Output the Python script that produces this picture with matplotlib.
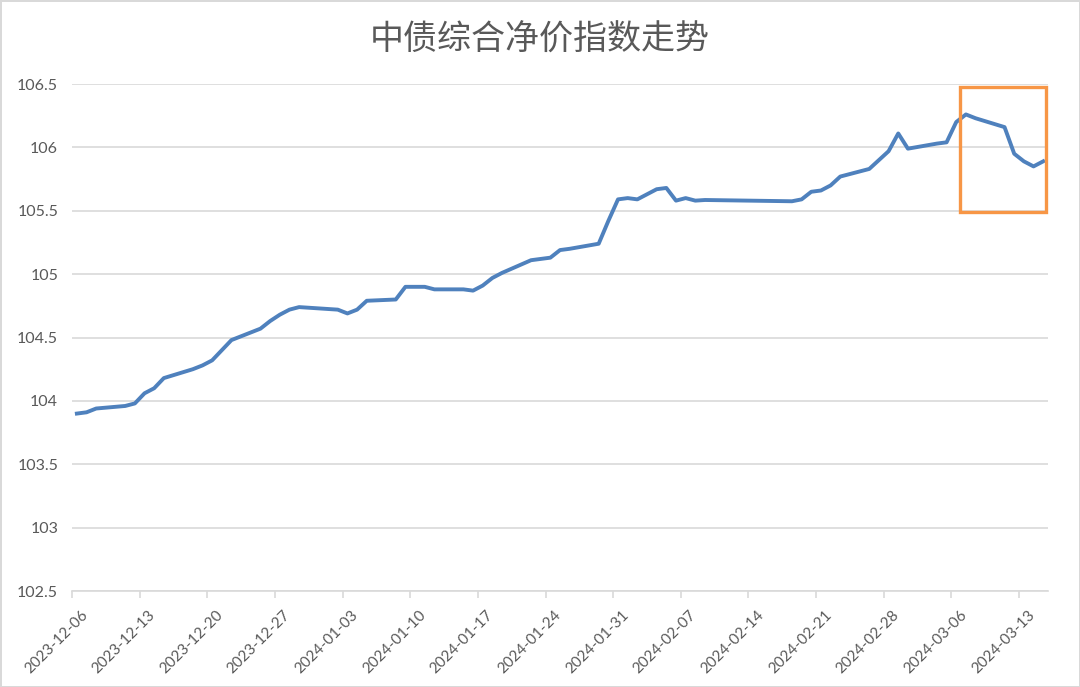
import matplotlib
matplotlib.use("Agg")
import matplotlib.pyplot as plt
import matplotlib.patches as mpatches
import matplotlib.transforms as mtransforms
import pandas as pd

# 中债综合净价指数 (daily closes)
dates = [
    "2023-12-06", "2023-12-07", "2023-12-08", "2023-12-11", "2023-12-12",
    "2023-12-13", "2023-12-14", "2023-12-15", "2023-12-18", "2023-12-19",
    "2023-12-20", "2023-12-21", "2023-12-22", "2023-12-25", "2023-12-26",
    "2023-12-27", "2023-12-28", "2023-12-29", "2024-01-02", "2024-01-03",
    "2024-01-04", "2024-01-05", "2024-01-08", "2024-01-09", "2024-01-10",
    "2024-01-11", "2024-01-12", "2024-01-15", "2024-01-16", "2024-01-17",
    "2024-01-18", "2024-01-19", "2024-01-22", "2024-01-23", "2024-01-24",
    "2024-01-25", "2024-01-26", "2024-01-29", "2024-01-30", "2024-01-31",
    "2024-02-01", "2024-02-02", "2024-02-04", "2024-02-05", "2024-02-06",
    "2024-02-07", "2024-02-08", "2024-02-09", "2024-02-18", "2024-02-19",
    "2024-02-20", "2024-02-21", "2024-02-22", "2024-02-23", "2024-02-26",
    "2024-02-27", "2024-02-28", "2024-02-29", "2024-03-01", "2024-03-04",
    "2024-03-05", "2024-03-06", "2024-03-07", "2024-03-08", "2024-03-11",
    "2024-03-12", "2024-03-13", "2024-03-14", "2024-03-15",
]
values = [
    103.90, 103.91, 103.94, 103.96, 103.98,
    104.06, 104.10, 104.18, 104.25, 104.28,
    104.32, 104.40, 104.48, 104.57, 104.63,
    104.68, 104.72, 104.74, 104.72, 104.69,
    104.72, 104.79, 104.80, 104.90, 104.90,
    104.90, 104.88, 104.88, 104.87, 104.91,
    104.97, 105.01, 105.11, 105.12, 105.13,
    105.19, 105.20, 105.24, 105.42, 105.59,
    105.60, 105.59, 105.67, 105.68, 105.58,
    105.60, 105.58, 105.585, 105.575, 105.59,
    105.65, 105.66, 105.70, 105.77, 105.83,
    105.90, 105.97, 106.11, 105.99, 106.03,
    106.04, 106.20, 106.26, 106.23, 106.16,
    105.95, 105.89, 105.85, 105.89,
]
tick_labels = [
    "2023-12-06", "2023-12-13", "2023-12-20", "2023-12-27", "2024-01-03",
    "2024-01-10", "2024-01-17", "2024-01-24", "2024-01-31", "2024-02-07",
    "2024-02-14", "2024-02-21", "2024-02-28", "2024-03-06", "2024-03-13",
]
y_ticks = [102.5, 103, 103.5, 104, 104.5, 105, 105.5, 106, 106.5]
title = "中债综合净价指数走势"

# highlighted window (orange box)
box_start, box_end = "2024-03-06", "2024-03-15"
box_low, box_high = 105.49, 106.48

GRAY_TXT = "#595959"
GRID = "#D9D9D9"
LINE = "#4F81BD"
ORANGE = "#F79646"

start = pd.Timestamp(dates[0])
end = pd.Timestamp(dates[-1])
x = [(pd.Timestamp(d) - start).days + 0.5 for d in dates]
n_days = (end - start).days + 1
tick_pos = [(pd.Timestamp(t) - start).days for t in tick_labels]

fig = plt.figure(figsize=(10.8, 6.87), dpi=100)
fig.patch.set_edgecolor(GRID)
fig.patch.set_linewidth(2)
ax = fig.add_axes([0.0667, 0.1397, 0.9037, 0.7380])

ax.plot(x, values, color=LINE, lw=2.8, solid_joinstyle="round", zorder=3)

# orange box
bx0 = (pd.Timestamp(box_start) - start).days + 0.9
bx1 = (pd.Timestamp(box_end) - start).days + 0.8
ax.add_patch(mpatches.Rectangle((bx0, box_low), bx1 - bx0, box_high - box_low,
                                fill=False, edgecolor=ORANGE, lw=2.4, zorder=4,
                                clip_on=False))

ax.set_xlim(0, n_days)
ax.set_ylim(y_ticks[0], y_ticks[-1])
ax.set_yticks(y_ticks)
ax.set_yticklabels([f"{v:g}" for v in y_ticks])
ax.set_xticks(tick_pos)
ax.set_xticklabels(tick_labels, rotation=45, ha="right", rotation_mode="anchor")

for s in ["left", "right", "top"]:
    ax.spines[s].set_visible(False)
ax.spines["bottom"].set_color(GRID)
ax.spines["bottom"].set_linewidth(1.2)
ax.grid(True, axis="y", color=GRID, lw=1.2, zorder=0)
ax.set_axisbelow(True)
ax.tick_params(axis="y", length=0, pad=10, labelsize=11.5, labelcolor=GRAY_TXT)
ax.tick_params(axis="x", length=5, width=1.2, color=GRID, pad=5,
               labelsize=11, labelcolor=GRAY_TXT)
shift = mtransforms.ScaledTranslation(6 / 72, -2 / 72, fig.dpi_scale_trans)
for lab in ax.get_xticklabels():
    lab.set_transform(lab.get_transform() + shift)
for lab in ax.get_xticklabels() + ax.get_yticklabels():
    lab.set_family(["Lato", "DejaVu Sans"])

fig.text(0.5, 0.942, title, ha="center", va="center", fontsize=24.5,
         color=GRAY_TXT, family=["Noto Sans CJK SC", "DejaVu Sans"])

fig.savefig("out.png", dpi=100)
